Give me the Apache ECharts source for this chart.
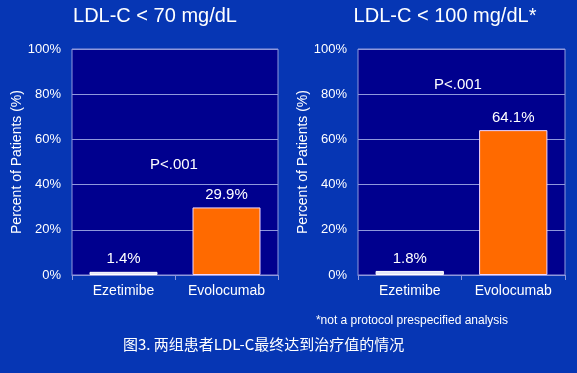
<!DOCTYPE html>
<html>
<head>
<meta charset="utf-8">
<style>
html,body{margin:0;padding:0;background:#0636b4;}
#c{width:577px;height:373px;}
</style>
<script src="https://cdn.jsdelivr.net/npm/echarts@6/dist/echarts.min.js"></script>
</head>
<body>
<div id="c"></div>
<script>
var categories = ['Ezetimibe', 'Evolocumab'];
var ldl70 = [1.4, 29.9];
var ldl100 = [1.8, 64.1];
var titles = ['LDL-C < 70 mg/dL', 'LDL-C < 100 mg/dL*'];
var yAxisName = 'Percent of Patients (%)';
var pText = 'P<.001';
var footnote = '*not a protocol prespecified analysis';
var caption = '图3. 两组患者LDL-C最终达到治疗值的情况';
var barColors = ['#e4e6fa', '#ff6a00'];

var FONT = 'Liberation Sans, Arial, sans-serif';
var gridLine = '#8f98dc';
var chart = echarts.init(document.getElementById('c'));

function mkY(i){
  return {
    gridIndex: i, type: 'value', min: 0, max: 100, interval: 20,
    name: yAxisName, nameLocation: 'middle', nameGap: 46,
    nameTextStyle: {color: '#ffffff', fontSize: 14, fontFamily: FONT},
    axisLabel: {formatter: '{value}%', color: '#ffffff', fontSize: 13, fontFamily: FONT, margin: 11},
    axisLine: {show: false}, axisTick: {show: false},
    splitLine: {show: true, lineStyle: {color: gridLine, width: 1}}
  };
}
function mkX(i){
  return {
    gridIndex: i, type: 'category', data: categories,
    axisLabel: {color: '#ffffff', fontSize: 14, fontFamily: FONT, margin: 9},
    axisLine: {lineStyle: {color: gridLine}},
    axisTick: {show: true, length: 5, lineStyle: {color: gridLine}}
  };
}
function mkSeries(i, vals){
  return {
    type: 'bar', xAxisIndex: i, yAxisIndex: i, barWidth: '66%',
    data: vals.map(function(v, k){
      return {value: v, itemStyle: {color: barColors[k], borderColor: k === 1 ? '#f0d8ff' : '#ffffff', borderWidth: 1}};
    }),
    label: {show: true, position: 'top', distance: 5, color: '#ffffff', fontSize: 15, fontFamily: FONT,
      formatter: function(p){ return p.value.toFixed(1) + '%'; }},
    animation: false
  };
}

chart.setOption({
  backgroundColor: '#0636b4',
  animation: false,
  title: [
    {text: titles[0], left: 150, top: 1, textAlign: 'center', textStyle: {color: '#ffffff', fontSize: 20, fontWeight: 'normal', fontFamily: FONT}},
    {text: titles[1], left: 440, top: 1, textAlign: 'center', textStyle: {color: '#ffffff', fontSize: 20, fontWeight: 'normal', fontFamily: FONT}}
  ],
  grid: [
    {left: 72, right: 299, top: 49, bottom: 98, show: true, backgroundColor: '#00008e', borderColor: gridLine, borderWidth: 1},
    {left: 358, right: 12, top: 49, bottom: 98, show: true, backgroundColor: '#00008e', borderColor: gridLine, borderWidth: 1}
  ],
  xAxis: [mkX(0), mkX(1)],
  yAxis: [mkY(0), mkY(1)],
  series: [mkSeries(0, ldl70), mkSeries(1, ldl100)],
  graphic: [
    {type: 'text', left: 150, top: 157, style: {text: pText, fill: '#ffffff', font: '15px ' + FONT}},
    {type: 'text', left: 434, top: 77, style: {text: pText, fill: '#ffffff', font: '15px ' + FONT}},
    {type: 'text', right: 69, top: 315, style: {text: footnote, fill: '#ffffff', font: '12px ' + FONT}},
    {type: 'text', left: 123, top: 337, style: {text: caption, fill: '#ffffff', font: '15px "Noto Sans CJK SC", sans-serif'}}
  ]
});
</script>
</body>
</html>
